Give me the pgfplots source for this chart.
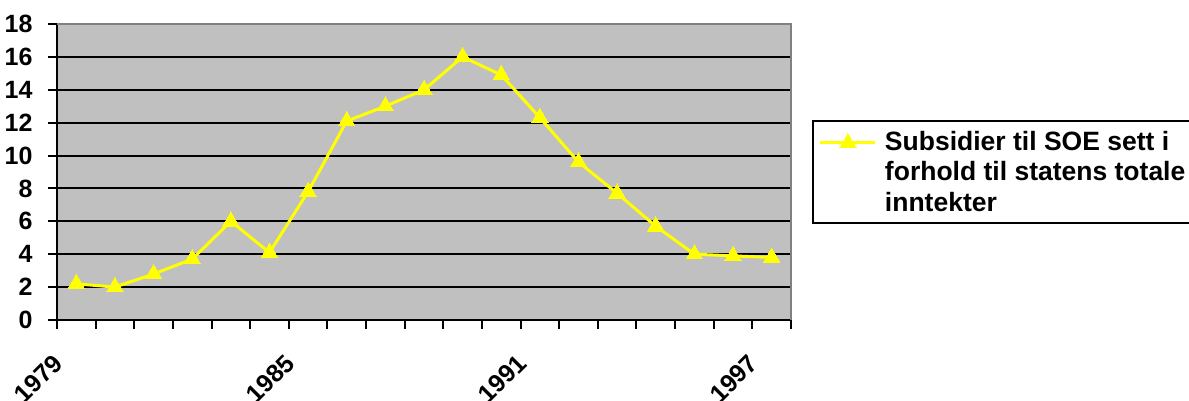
\documentclass[border=0pt]{standalone}
\usepackage{pgfplots}
\pgfplotsset{compat=1.18}
\usepackage{fontspec}
\setmainfont{Liberation Sans}
\definecolor{plotgray}{HTML}{C0C0C0}
\definecolor{framegray}{HTML}{808080}
\definecolor{soeyellow}{HTML}{FFFF00}

\begin{document}
\begin{tikzpicture}
\useasboundingbox (0,0) rectangle (1189pt,401pt);
\begin{axis}[
    scale only axis,
    width=734pt, height=296pt,
    at={(57pt,81pt)}, anchor=south west,
    xmin=-0.5, xmax=18.5,
    ymin=0, ymax=18,
    axis lines=left,
    axis line style={-, line width=2pt, black},
    axis background/.style={fill=plotgray},
    ytick={0,2,...,18},
    ymajorgrids,
    major grid style={line width=2pt, black},
    xtick={0,6,12,18},
    xticklabels={1979,1985,1991,1997},
    minor xtick={-0.5,0.5,...,18.5},
    major x tick style={draw=none},
    minor tick length=9pt,
    tick style={line width=2pt, black},
    major tick length=9pt,
    tick align=outside,
    /pgf/number format/assume math mode=true,
    yticklabel style={font=\fontsize{25}{30}\selectfont\bfseries, xshift=-12pt},
    xticklabel style={font=\fontsize{25}{30}\selectfont\bfseries,
        xshift=-18pt, yshift=-30pt, rotate=45, anchor=east, inner sep=0pt},
    legend style={at={(1.0286,0.6757)}, anchor=north west,
        draw=black, line width=2pt, fill=white,
        inner xsep=6pt, inner ysep=8pt,
        font=\fontsize{26.5}{30.5}\selectfont\bfseries,
        cells={anchor=west, align=left}},
    legend image code/.code={
        \draw[line width=3pt] (0pt,29pt) -- (55pt,29pt);
        \draw[mark repeat=1, mark phase=1] plot coordinates {(27.5pt,29pt)};
        \path (0pt,-29pt) (61pt,-29pt);
    },
    clip=false,
]
\addplot[color=soeyellow, line width=3pt, mark=triangle*,
         mark size=9.5pt, mark options={fill=soeyellow, draw=soeyellow, line width=0pt}]
coordinates {
    (0,2.2) (1,2.0) (2,2.8) (3,3.7) (4,6.0) (5,4.1) (6,7.8) (7,12.1)
    (8,13.0) (9,14.0) (10,16.0) (11,14.9) (12,12.3) (13,9.6) (14,7.7)
    (15,5.7) (16,4.0) (17,3.9) (18,3.8)
};
\addlegendentry{Subsidier til SOE sett i\\forhold til statens totale\\inntekter}
\draw[framegray, line width=2pt] (rel axis cs:0,1) -- (rel axis cs:1,1) -- (rel axis cs:1,0);
\end{axis}
\end{tikzpicture}
\end{document}
